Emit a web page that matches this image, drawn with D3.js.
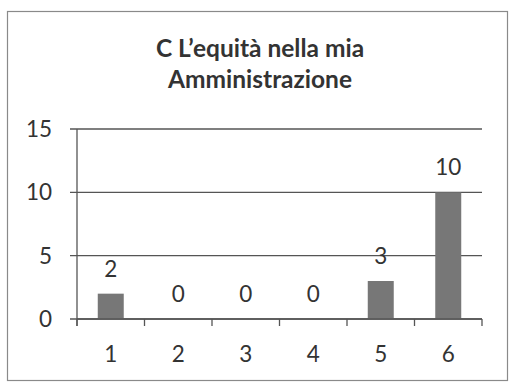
<!DOCTYPE html>
<html>
<head>
<meta charset="utf-8">
<script src="https://cdn.jsdelivr.net/npm/d3@7"></script>
<style>
  html, body { margin: 0; padding: 0; background: #fff; }
  svg { display: block; }
  text { font-family: Lato, "Open Sans", sans-serif; fill: #333; }
</style>
</head>
<body>
<svg id="chart" width="510" height="383"></svg>
<script>
// Chart content
const titleLines = ["C L\u2019equità nella mia", "Amministrazione"];
const categories = ["1", "2", "3", "4", "5", "6"];
const values = [2, 0, 0, 0, 3, 10];
const yTicks = [0, 5, 10, 15];

const svg = d3.select("#chart");
const numberSize = 22.5;

// Outer frame
svg.append("rect")
  .attr("x", 7.5).attr("y", 11.5)
  .attr("width", 500).attr("height", 369)
  .attr("fill", "none")
  .attr("stroke", "#8a8a8a")
  .attr("stroke-width", 1.2);

// Title
const title = svg.append("text")
  .attr("text-anchor", "middle")
  .attr("font-weight", "bold")
  .attr("font-size", 24.5);
titleLines.forEach((line, i) => {
  title.append("tspan")
    .attr("x", 260)
    .attr("y", 57 + i * 31)
    .text(line);
});

// Scales
const x = d3.scaleBand()
  .domain(categories)
  .range([77, 482])
  .paddingInner(0.615)
  .paddingOuter(0.3075);

const y = d3.scaleLinear()
  .domain([0, 15])
  .range([319, 129]);

// Horizontal gridlines with y tick marks
svg.append("g")
  .selectAll("line")
  .data(yTicks)
  .join("line")
  .attr("x1", 70)
  .attr("x2", 482)
  .attr("y1", d => y(d))
  .attr("y2", d => y(d))
  .attr("stroke", "#555")
  .attr("stroke-width", 1.3);

// Y axis labels
svg.append("g")
  .selectAll("text")
  .data(yTicks)
  .join("text")
  .attr("x", 52)
  .attr("y", d => y(d))
  .attr("dy", "0.36em")
  .attr("text-anchor", "end")
  .attr("font-size", numberSize)
  .text(d => d);

// Y axis line
svg.append("line")
  .attr("x1", 77).attr("x2", 77)
  .attr("y1", y(15)).attr("y2", y(0) + 7)
  .attr("stroke", "#555")
  .attr("stroke-width", 1.3);

// Bars
svg.append("g")
  .selectAll("rect")
  .data(values)
  .join("rect")
  .attr("x", (d, i) => x(categories[i]))
  .attr("width", x.bandwidth())
  .attr("y", d => y(d))
  .attr("height", d => y(0) - y(d))
  .attr("fill", "#777");

// X axis category labels
const xAxis = d3.axisBottom(x).tickSize(0).tickPadding(0);
const xg = svg.append("g")
  .attr("transform", `translate(0,${y(0)})`)
  .call(xAxis);
xg.select(".domain").remove();
xg.selectAll(".tick text")
  .attr("y", 43)
  .attr("dy", 0)
  .attr("font-size", numberSize)
  .attr("font-family", "Lato, 'Open Sans', sans-serif")
  .attr("fill", "#333");

// X axis baseline
svg.append("line")
  .attr("x1", 77).attr("x2", 482)
  .attr("y1", y(0)).attr("y2", y(0))
  .attr("stroke", "#555")
  .attr("stroke-width", 1.3);

// Tick marks at band boundaries
const boundaries = categories.map((c, i) => x.range()[0] + i * x.step());
boundaries.push(x.range()[1]);
svg.append("g")
  .selectAll("line")
  .data(boundaries)
  .join("line")
  .attr("x1", d => d).attr("x2", d => d)
  .attr("y1", y(0)).attr("y2", y(0) + 7)
  .attr("stroke", "#555")
  .attr("stroke-width", 1.3);

// Value labels above bars
svg.append("g")
  .selectAll("text")
  .data(values)
  .join("text")
  .attr("x", (d, i) => x(categories[i]) + x.bandwidth() / 2)
  .attr("y", d => y(d) - 17)
  .attr("text-anchor", "middle")
  .attr("font-size", numberSize)
  .text(d => d);
</script>
</body>
</html>
